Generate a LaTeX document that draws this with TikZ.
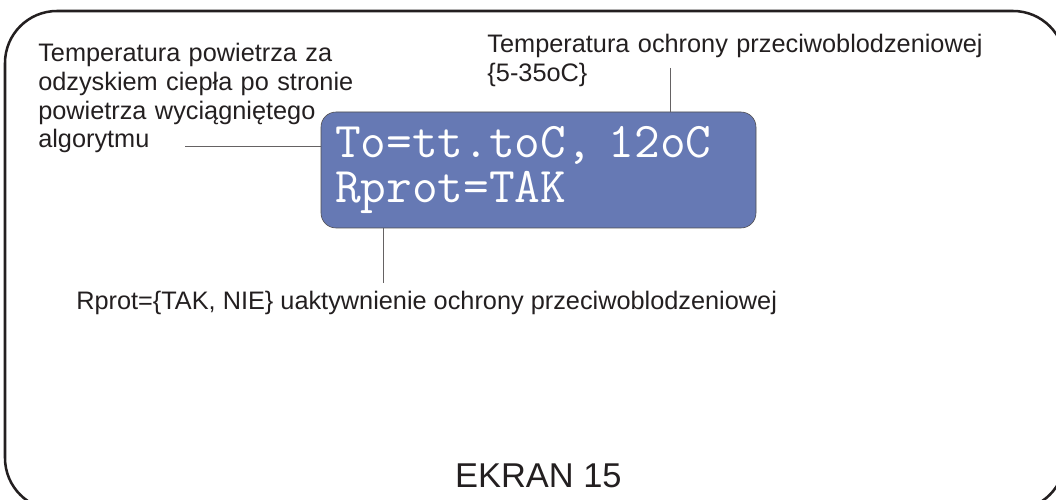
\documentclass[tikz,border=0pt]{standalone}
\usepackage{fontspec}
\setmainfont{Liberation Sans}
\definecolor{lcdblue}{RGB}{102,121,180}
\definecolor{ink}{RGB}{35,31,32}

\begin{document}
\begin{tikzpicture}[
  lbl/.style={inner sep=0pt, anchor=base west, align=left, text=ink, font=\fontsize{18}{20.3}\selectfont},
  lcd/.style={draw=ink!80, fill=lcdblue, rounded corners=0.375cm, minimum width=10.875cm, minimum height=2.9cm,
    inner xsep=0.35cm, text width=10.175cm, align=left, text=white, font=\ttfamily\fontsize{35.5}{32.6}\selectfont},
  pin/.style={draw=ink!70, line width=0.6pt}]
\path[use as bounding box, clip] (0,0) rectangle (26.4,12.5);
\draw[ink, line width=1.8pt, rounded corners=1.3cm] (0.125,12.225) rectangle (26.625,-0.25);
\node[lcd] (screen) at (13.4625,8.25) {To=tt.toC, 12oC\\Rprot=TAK};
\node[lbl, text width=9cm] (airText) at (0.95,10.95) {Temperatura powietrza za\\odzyskiem ciepła po stronie\\powietrza wyciągniętego\\algorytmu};
\node[lbl, text width=13cm] (protText) at (12.18,11.175) {Temperatura ochrony przeciwoblodzeniowej\\\{5-35oC\}};
\node[lbl] (rprotText) at (1.9,4.75) {Rprot=\{TAK, NIE\} uaktywnienie ochrony przeciwoblodzeniowej};
\node[lbl, anchor=base, font=\fontsize{24.5}{28}\selectfont] (title) at (13.46,0.3) {EKRAN 15};
\coordinate (airEnd) at (4.625,8.85);
\coordinate (protTop) at (16.75,10.8);
\coordinate (rprotEnd) at (9.575,5.425);
\draw[pin] (airEnd) -- (airEnd -| screen.west);
\draw[pin] (protTop) -- (protTop |- screen.north);
\draw[pin] (rprotEnd |- screen.south) -- (rprotEnd);
\end{tikzpicture}
\end{document}
